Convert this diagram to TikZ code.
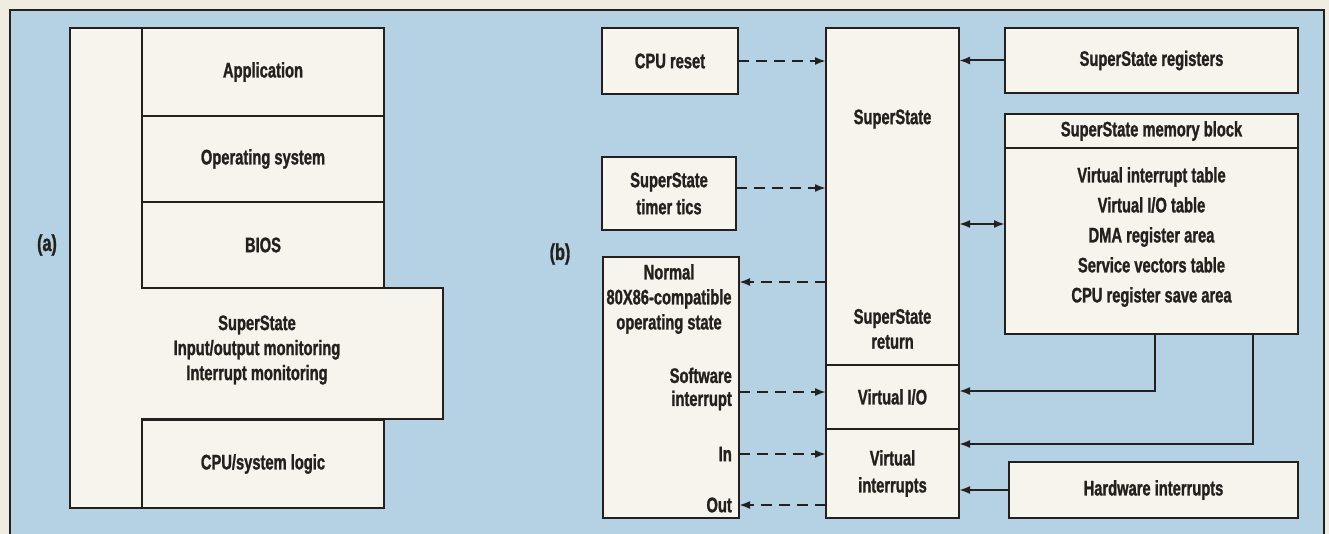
\documentclass[tikz,border=0pt]{standalone}
\usepackage{fontspec}
\setmainfont{Liberation Sans}[FakeStretch=0.70, BoldFeatures={FakeBold=1.2}]
\usetikzlibrary{arrows.meta}
\definecolor{bgblue}{RGB}{180,210,228}
\definecolor{paper}{RGB}{240,236,226}
\definecolor{boxfill}{RGB}{247,244,238}
\definecolor{ink}{RGB}{36,32,30}
\begin{document}
\begin{tikzpicture}[x=1pt,y=-1pt,
  every node/.style={font=\fontsize{21}{25}\selectfont\bfseries, text=ink},
  box/.style={draw=ink, fill=boxfill, line width=2pt, inner sep=0pt, outer sep=0pt, align=center},
  txt/.style={inner sep=0pt, align=center},
  darr/.style={draw=ink, line width=2pt, dash pattern=on 11pt off 7pt, -{Latex[length=11pt,width=8pt]}},
  sarr/.style={draw=ink, line width=2pt, -{Latex[length=11pt,width=8pt]}},
  dblarr/.style={draw=ink, line width=2pt, {Latex[length=11pt,width=8pt]}-{Latex[length=11pt,width=8pt]}}]
\useasboundingbox (0,0) rectangle (1329,534);
\fill[paper] (0,0) rectangle (1329,534);
\fill[bgblue] (10,10) rectangle (1324,534);
\draw[ink, line width=2pt] (10,540) -- (10,10) -- (1324,10) -- (1324,540);
% rows and columns
\coordinate (r224) at (0,224);
\coordinate (r282) at (0,282);
\coordinate (r391) at (0,391);
\coordinate (r392) at (0,392);
\coordinate (r444) at (0,444);
\coordinate (r454) at (0,454);
\coordinate (r505) at (0,505);
\coordinate (c1155) at (1155,0);
\coordinate (c1253) at (1253,0);
% ---------- panel (a)
\filldraw[fill=boxfill, draw=ink, line width=2pt] (70,28) -- (142,28) -- (142,288) -- (443,288) -- (443,419) -- (142,419) -- (142,508) -- (70,508) -- cycle;
\node[box, minimum width=242pt, minimum height=88pt] (app) at (263,72) {Application};
\node[box, minimum width=242pt, minimum height=86pt] (os) at (263,159) {Operating system};
\node[box, minimum width=242pt, minimum height=86pt] (bios) at (263,245) {BIOS};
\node[box, minimum width=242pt, minimum height=88pt] (cpu) at (263,464) {CPU/system logic};
\node[txt] (ssa) at (257,350) {SuperState\\Input/output monitoring\\Interrupt monitoring};
\node[txt, font=\fontsize{23}{25}\selectfont\bfseries] (la) at (47,245) {(a)};
% ---------- panel (b)
\node[box, minimum width=136pt, minimum height=66pt] (reset) at (670,61) {CPU reset};
\node[box, minimum width=134pt, minimum height=73pt, font=\fontsize{21}{27}\selectfont\bfseries] (timer) at (669,193.5) {SuperState\\timer tics};
\node[box, minimum width=136pt, minimum height=261pt] (normal) at (671,387.5) {};
\node[txt] (normT) at (669,299) {Normal\\80X86-compatible\\operating state};
\node[txt, align=right, anchor=east, font=\fontsize{21}{23}\selectfont\bfseries] (swT) at (732,389) {Software\\interrupt};
\node[txt, anchor=east] (inT) at (732,454) {In};
\node[txt, anchor=east] (outT) at (732,505) {Out};
\node[txt, font=\fontsize{23}{25}\selectfont\bfseries] (lb) at (560,254) {(b)};
\node[box, minimum width=133pt, minimum height=337pt] (ss) at (892.5,196.5) {};
\node[box, minimum width=133pt, minimum height=64pt] (vio) at (892.5,397) {Virtual I/O};
\node[box, minimum width=133pt, minimum height=89pt, font=\fontsize{21}{27}\selectfont\bfseries] (vint) at (892.5,473.5) {Virtual\\interrupts};
\node[txt] (ssT) at (892.5,119) {SuperState};
\node[txt] (ssrT) at (892.5,329) {SuperState\\return};
\node[box, minimum width=293pt, minimum height=65pt] (reg) at (1151.5,60.5) {SuperState registers};
\node[box, minimum width=293pt, minimum height=34pt] (memH) at (1151.5,131) {SuperState memory block};
\node[box, minimum width=293pt, minimum height=186pt] (memB) at (1151.5,241) {};
\node[txt, font=\fontsize{21}{30}\selectfont\bfseries] (memT) at (1151.5,237) {Virtual interrupt table\\Virtual I/O table\\DMA register area\\Service vectors table\\CPU register save area};
\node[box, minimum width=289pt, minimum height=56pt] (hw) at (1153.5,490) {Hardware interrupts};
% connectors
\coordinate (tA) at ([yshift=5.5pt]timer.east);
\draw[darr] (reset.east) -- (reset.east -| ss.west);
\draw[darr] (tA) -- (tA -| ss.west);
\draw[darr] (ss.west |- r282) -- (normal.east |- r282);
\draw[darr] (normal.east |- r392) -- (vio.west |- r392);
\draw[darr] (normal.east |- r454) -- (vint.west |- r454);
\draw[darr] (vint.west |- r505) -- (normal.east |- r505);
\draw[sarr] (reg.west) -- (reg.west -| ss.east);
\draw[dblarr] (memB.west |- r224) -- (ss.east |- r224);
\draw[sarr] (memB.south -| c1155) |- (vio.east |- r391);
\draw[sarr] (memB.south -| c1253) |- (vint.east |- r444);
\draw[sarr] (hw.west) -- (hw.west -| vint.east);
\end{tikzpicture}
\end{document}
